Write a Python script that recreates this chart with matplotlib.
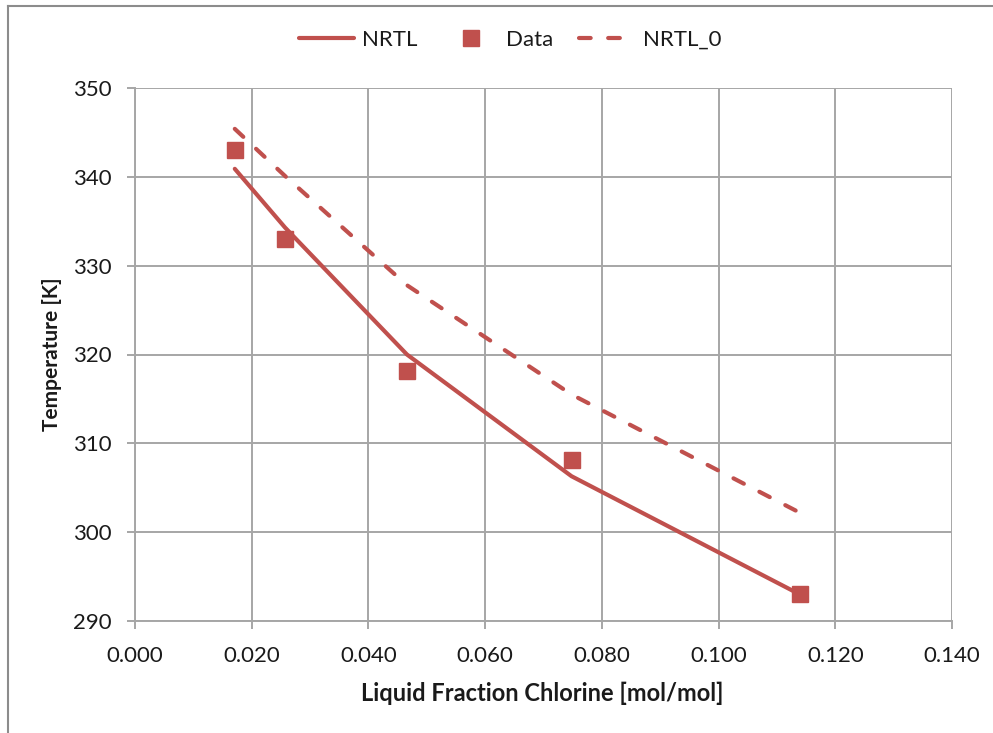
import matplotlib
matplotlib.use("Agg")
import matplotlib.pyplot as plt
from matplotlib.lines import Line2D
from matplotlib.ticker import FormatStrFormatter

x_data = [0.0171, 0.0257, 0.0466, 0.0748, 0.1139]
t_data = [343.0, 333.0, 318.1, 308.1, 293.0]
t_nrtl = [340.9, 334.3, 320.0, 306.3, 293.0]
t_nrtl0 = [345.4, 340.1, 327.8, 315.5, 302.2]

x_ticks = [0.0, 0.02, 0.04, 0.06, 0.08, 0.10, 0.12, 0.14]
y_ticks = [290, 300, 310, 320, 330, 340, 350]

red = "#C0504D"
grid_c = "#A6A6A6"
txt_c = "#1a1a1a"

plt.rcParams['font.family'] = ['Lato', 'DejaVu Sans']

fig = plt.figure(figsize=(9.93, 7.33), dpi=100)
ax = fig.add_axes([135/993, 1-621/733, (952-135)/993, (621-88)/733])

ax.plot(x_data, t_nrtl, color=red, lw=3, solid_capstyle='round', solid_joinstyle='round', label='NRTL', zorder=3)
ax.plot(x_data, t_data, linestyle='none', marker='s', markersize=11.5, color=red, label='Data', zorder=4)
ax.plot(x_data, t_nrtl0, color=red, lw=3, linestyle=(0, (2.8, 4.2)), dash_capstyle='round', label='NRTL_0', zorder=3)

ax.set_xlim(0, 0.14)
ax.set_ylim(290, 350)
ax.set_xticks(x_ticks)
ax.set_yticks(y_ticks)
ax.xaxis.set_major_formatter(FormatStrFormatter('%.3f'))
ax.grid(True, color=grid_c, lw=1.4, zorder=0)
ax.set_axisbelow(True)
for s in ['top', 'right']:
    ax.spines[s].set_visible(False)
for s in ['left', 'bottom']:
    ax.spines[s].set_color(grid_c)
    ax.spines[s].set_linewidth(1.4)
ax.tick_params(axis='both', direction='out', length=6, width=1.4, color=grid_c,
               labelsize=16, labelcolor=txt_c)
ax.tick_params(axis='x', pad=12)
ax.tick_params(axis='y', pad=11)

ax.set_xlabel('Liquid Fraction Chlorine [mol/mol]', fontsize=17, fontweight='bold', color=txt_c)
ax.set_ylabel('Temperature [K]', fontsize=15, fontweight='bold', color=txt_c)
ax.xaxis.set_label_coords((542-135)/(952-135), -(693-621)/(621-88))
ax.yaxis.set_label_coords(-(135-52)/(952-135), 0.5)
ax.xaxis.label.set_va('center')
ax.yaxis.label.set_va('center')

handles = [
    Line2D([], [], color=red, lw=3, solid_capstyle='round'),
    Line2D([], [], color=red, linestyle='none', marker='s', markersize=11.5),
    Line2D([], [], color=red, lw=3, linestyle=(0, (2.8, 4.2)), dash_capstyle='round'),
]
fig.legend(handles, ['NRTL', 'Data', 'NRTL_0'], loc='center', bbox_to_anchor=(510/993, 1-40/733),
           ncol=3, frameon=False, fontsize=16, handlelength=2.5, columnspacing=1.15, handletextpad=0.35,
           labelcolor=txt_c, borderpad=0, borderaxespad=0)

# chart area frame (top and left visible)
fig.add_artist(Line2D([7.5/993, 1], [1-5.5/733, 1-5.5/733], transform=fig.transFigure, color='#8c8c8c', lw=1.5))
fig.add_artist(Line2D([7.5/993, 7.5/993], [0, 1-5.5/733], transform=fig.transFigure, color='#8c8c8c', lw=1.5))

fig.savefig('out.png', dpi=100)
